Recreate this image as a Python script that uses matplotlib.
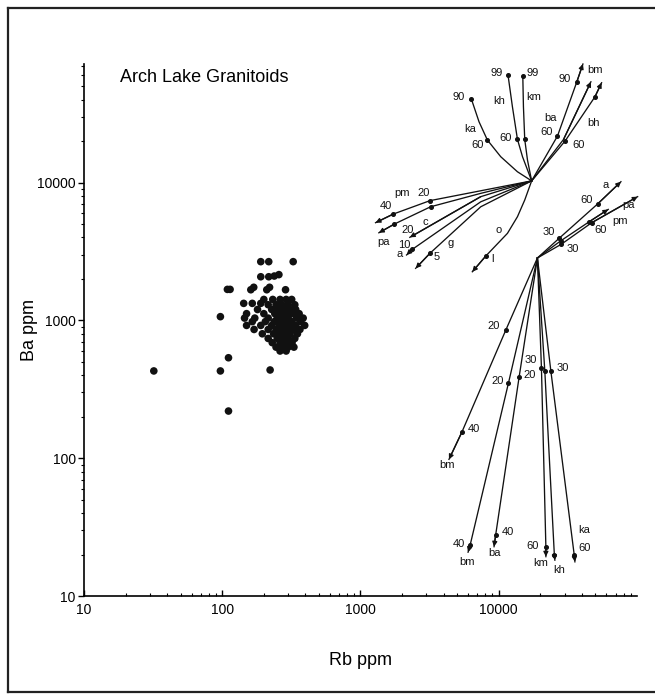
import matplotlib.pyplot as plt
from matplotlib.ticker import LogLocator, NullFormatter
from matplotlib.lines import Line2D

plt.rcParams['font.family'] = ['Liberation Sans', 'DejaVu Sans']

# ---- sample points (Rb ppm, Ba ppm) ----
rb_outer = [32, 97, 111, 111, 222, 97, 109, 114, 190, 217, 326, 190, 217, 238, 257,
            161, 169, 210, 220, 287, 143, 165, 190]
ba_outer = [430, 430, 536, 220, 437, 1065, 1680, 1680, 2670, 2670, 2670, 2075, 2075, 2100, 2150,
            1670, 1740, 1670, 1740, 1670, 1330, 1330, 1330]

rb_cluster = [200, 232, 262, 290, 318,
              215, 245, 270, 300, 335,
              180, 228, 255, 280, 310, 340,
              150, 200, 240, 262, 290, 322, 360,
              145, 172, 215, 250, 275, 300, 345, 385,
              165, 205, 238, 265, 290, 318, 370,
              150, 190, 228, 258, 282, 305, 340, 395,
              170, 215, 245, 270, 298, 330, 365,
              195, 235, 260, 285, 310, 350,
              215, 250, 275, 300, 335,
              230, 262, 290, 320,
              245, 272, 300, 330,
              262, 290]
ba_cluster = [1420] * 5 + [1300] * 5 + [1200] * 6 + [1120] * 7 + [1040] * 8 + [980] * 7 \
    + [920] * 8 + [860] * 7 + [800] * 6 + [740] * 5 + [690] * 4 + [640] * 4 + [600] * 2

# ---- fractionation vectors (Rb, Ba); last point = tip ----
origin_top = (17300, 10300)
origin_low = (19050, 2840)

# upper fan
vec_ka = [origin_top, (13660, 11990), (10340, 15420), (8280, 20370), (7200, 27660), (6340, 40450)]
vec_kh = [origin_top, (14860, 15420), (13660, 20600), (12560, 35560), (11670, 60400)]
vec_km = [origin_top, (16140, 14590), (15420, 20600), (15090, 35560), (14930, 59430)]
vec_ba = [origin_top, (26600, 21780), (36730, 53950), (40640, 72600)]
vec_bm = [origin_top, (29440, 20600), (46430, 53950)]
vec_bh = [origin_top, (30200, 20050), (49660, 41980), (55460, 53090)]
vec_pm = [origin_top, (7410, 8730), (3180, 7400), (1727, 5915), (1285, 5120)]
vec_pa = [origin_top, (7410, 8360), (3213, 6680), (1762, 5010), (1358, 4325)]
vec_c = [origin_top, (7410, 7910), (2275, 4010)]
vec_a = [origin_top, (7410, 7260), (2371, 3280), (2154, 2985)]
vec_g = [origin_top, (7410, 6680), (3180, 3070), (2506, 2388)]
vec_o = [origin_top, (15420, 7480), (13660, 5660), (11560, 4285), (8050, 2930), (6440, 2255)]

# lower fan
vec_a2 = [origin_low, (27350, 3945), (51880, 7000), (76560, 10160)]
vec_pa2 = [origin_low, (28120, 3785), (45080, 5200), (61950, 6395)]
vec_pm2 = [origin_low, (28440, 3580), (46990, 5115), (101100, 7910)]
vec_bm2a = [origin_low, (11250, 851), (5410, 154.5), (4366, 98.1)]
vec_bm2b = [origin_low, (11750, 350), (6210, 23.4), (6000, 20.8)]
vec_ba2 = [origin_low, (14030, 386), (9500, 27.7), (9250, 22.8)]
vec_km2 = [origin_low, (20370, 449), (21930, 22.6), (21930, 19.3)]
vec_kh2 = [origin_low, (21540, 431), (25250, 19.9), (25470, 18.2)]
vec_ka2 = [origin_low, (23820, 430), (35150, 19.9), (35560, 17.7)]

arrow_vecs = [vec_ba, vec_bm, vec_bh, vec_pm, vec_pa, vec_c, vec_a, vec_g, vec_o,
              vec_a2, vec_pa2, vec_pm2, vec_bm2a, vec_bm2b, vec_ba2, vec_km2, vec_kh2, vec_ka2]
plain_vecs = [vec_ka, vec_kh, vec_km]

tick_dots = [(8280, 20370), (6340, 40450), (13660, 20600), (11670, 60400), (15420, 20600),
             (14930, 59430), (26600, 21780), (36730, 53950), (30200, 20050), (49660, 41980),
             (3180, 7400), (1727, 5915), (3213, 6680), (1762, 5010), (2371, 3280),
             (3180, 3070), (8050, 2930),
             (27350, 3945), (51880, 7000), (28120, 3785), (45080, 5200), (28440, 3580),
             (46990, 5115), (11250, 851), (5410, 154.5), (11750, 350), (6210, 23.4),
             (14030, 386), (9500, 27.7), (20370, 449), (21930, 22.6), (21540, 431),
             (25250, 19.9), (23820, 430), (35150, 19.9)]

vec_labels = [("ka", 6195, 24490), ("60", 7080, 18750), ("90", 5150, 41570),
              ("kh", 10050, 39260), ("60", 11250, 20940), ("99", 9690, 62100),
              ("km", 17820, 41980), ("99", 17540, 62800),
              ("ba", 23820, 29310), ("60", 22180, 23390), ("90", 30200, 56230),
              ("bm", 49500, 65640), ("bh", 48530, 26920), ("60", 37580, 18750),
              ("pm", 2005, 8360), ("20", 2877, 8360), ("40", 1517, 6760),
              ("pa", 1476, 3725), ("c", 2958, 5200), ("20", 2203, 4530),
              ("10", 2085, 3555), ("a", 1918, 3034), ("5", 3556, 2897), ("g", 4487, 3624),
              ("o", 9950, 4530), ("l", 8995, 2775),
              ("a", 59570, 9620), ("60", 43450, 7480), ("pa", 86500, 6870),
              ("pm", 75680, 5285), ("60", 54830, 4530), ("30", 23170, 4405), ("30", 34200, 3280),
              ("20", 9250, 910), ("40", 6560, 162), ("bm", 4246, 89.3),
              ("20", 9790, 365), ("40", 5150, 23.8), ("bm", 5930, 17.7),
              ("20", 16790, 402), ("40", 11560, 29.3), ("ba", 9250, 20.4),
              ("30", 17060, 516), ("60", 17540, 23.1), ("km", 20140, 17.3),
              ("kh", 27350, 15.5), ("30", 28970, 454), ("ka", 41500, 30.1), ("60", 41960, 22.2)]

x_ticks = [10, 100, 1000, 10000]
y_ticks = [10, 100, 1000, 10000]

fig = plt.figure(figsize=(6.55, 6.98), dpi=100)
ax = fig.add_axes([0.1282, 0.1461, 0.8443, 0.7622])
ax.set_xscale('log')
ax.set_yscale('log')
ax.set_xlim(10, 1e5)
ax.set_ylim(10, 72600)

ax.scatter(rb_outer, ba_outer, s=30, color='#111111', edgecolors='none', zorder=3)
ax.scatter(rb_cluster, ba_cluster, s=30, color='#111111', edgecolors='none', zorder=3)

for v in plain_vecs + arrow_vecs:
    xs = [p[0] for p in v]
    ys = [p[1] for p in v]
    ax.plot(xs, ys, color='#111111', lw=0.95, clip_on=False, zorder=2)
for v in arrow_vecs:
    ax.annotate('', xy=v[-1], xytext=v[-2],
                arrowprops=dict(arrowstyle='-|>', color='#111111', lw=0.95,
                                mutation_scale=7, shrinkA=0, shrinkB=0),
                annotation_clip=False)
ax.plot([d[0] for d in tick_dots], [d[1] for d in tick_dots], 'o', color='#111111',
        ms=2.6, clip_on=False, zorder=3)
for txt, x, y in vec_labels:
    ax.text(x, y, txt, fontsize=8, ha='center', va='center', color='#111111')

ax.text(0.065, 0.974, "Arch Lake Granitoids", transform=ax.transAxes, fontsize=13,
        ha='left', va='center')

ax.spines['top'].set_visible(False)
ax.spines['right'].set_visible(False)
ax.spines['left'].set_linewidth(1.2)
ax.spines['bottom'].set_linewidth(1.2)

ax.set_xticks(x_ticks)
ax.set_xticklabels([str(t) for t in x_ticks])
ax.set_yticks(y_ticks)
ax.set_yticklabels([str(t) for t in y_ticks])
ax.xaxis.set_minor_locator(LogLocator(base=10, subs=range(2, 10)))
ax.yaxis.set_minor_locator(LogLocator(base=10, subs=range(2, 10)))
ax.xaxis.set_minor_formatter(NullFormatter())
ax.yaxis.set_minor_formatter(NullFormatter())
ax.tick_params(axis='x', which='both', direction='in', labelsize=10, pad=5)
ax.tick_params(axis='y', which='both', direction='out', labelsize=10, pad=2)
ax.tick_params(which='major', length=4, width=1)
ax.tick_params(which='minor', length=2.5, width=0.8)

ax.set_xlabel("Rb ppm", fontsize=13)
ax.set_ylabel("Ba ppm", fontsize=13)
ax.xaxis.set_label_coords(0.5, -0.105)
ax.yaxis.set_label_coords(-0.083, 0.5)

# outer frame
fx0, fy0, fy1 = 8 / 655, 6 / 698, 1 - 8 / 698
fig.add_artist(Line2D([fx0, fx0], [fy0, fy1], transform=fig.transFigure, color='#222222', lw=1.6))
fig.add_artist(Line2D([fx0, 1], [fy1, fy1], transform=fig.transFigure, color='#222222', lw=1.6))
fig.add_artist(Line2D([fx0, 1], [fy0, fy0], transform=fig.transFigure, color='#222222', lw=1.6))

fig.savefig("out.png", dpi=100, facecolor='white')
